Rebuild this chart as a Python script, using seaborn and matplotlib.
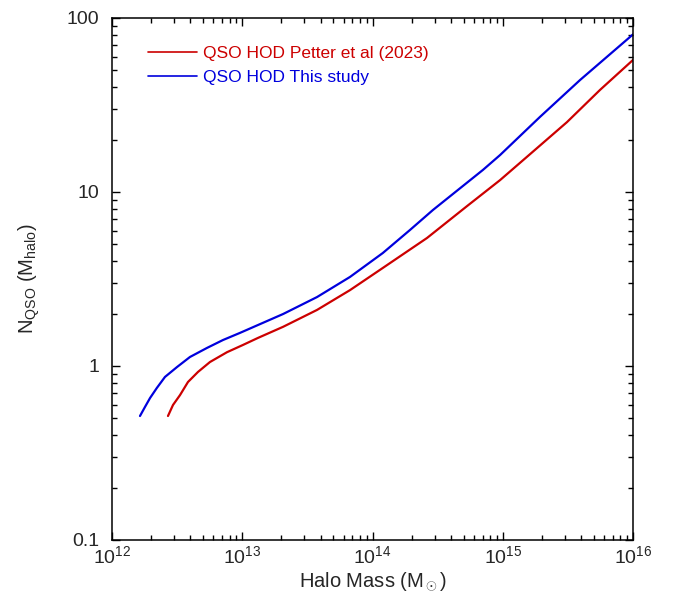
import numpy as np
import pandas as pd
import matplotlib
matplotlib.use("Agg")
import matplotlib.pyplot as plt
import matplotlib.ticker as mticker
import seaborn as sns

# Data
mass_petter = [2.69e12, 2.94e12, 3.33e12, 3.83e12, 4.57e12, 5.65e12, 7.63e12, 1.01e13,
               1.32e13, 2.06e13, 3.75e13, 6.72e13, 1.20e14, 2.62e14, 5.32e14, 9.53e14,
               1.53e15, 3.11e15, 5.58e15, 1.0e16]
n_petter = [0.516, 0.597, 0.681, 0.809, 0.924, 1.054, 1.20, 1.32,
            1.45, 1.68, 2.10, 2.73, 3.66, 5.44, 8.3, 11.7,
            15.9, 25.2, 38.6, 57.4]

mass_this = [1.64e12, 1.79e12, 1.96e12, 2.21e12, 2.55e12, 3.16e12, 3.97e12, 5.36e12,
             7.11e12, 9.61e12, 1.32e13, 2.06e13, 3.75e13, 6.72e13, 1.20e14, 1.94e14,
             2.91e14, 7.05e14, 9.53e14, 1.93e15, 3.92e15, 1.0e16]
n_this = [0.516, 0.581, 0.655, 0.748, 0.865, 0.987, 1.127, 1.27,
          1.41, 1.55, 1.72, 1.99, 2.49, 3.25, 4.46, 6.05,
          7.88, 13.4, 16.3, 27.0, 44.0, 80.5]

labels = ["QSO HOD Petter et al (2023)", "QSO HOD This study"]
colors = ["#cc0000", "#0000dd"]
y_ticks = [0.1, 1, 10, 100]
y_tick_labels = ["0.1", "1", "10", "100"]

df = pd.concat([
    pd.DataFrame({"mass": mass_petter, "n": n_petter, "series": labels[0]}),
    pd.DataFrame({"mass": mass_this, "n": n_this, "series": labels[1]}),
])

sns.set_style("ticks")
plt.rcParams["font.family"] = ["Liberation Sans", "DejaVu Sans"]
plt.rcParams["mathtext.fontset"] = "custom"
plt.rcParams["mathtext.rm"] = "Liberation Sans"
plt.rcParams["mathtext.it"] = "Liberation Sans:italic"

fig = plt.figure(figsize=(6.75, 6.04), dpi=100)
ax = fig.add_axes([112/675, 1-540/604, (633-112)/675, (540-18)/604])

sns.lineplot(data=df, x="mass", y="n", hue="series", palette=dict(zip(labels, colors)),
             linewidth=1.6, sort=False, estimator=None, ax=ax)

ax.set_xscale("log")
ax.set_yscale("log")
ax.set_xlim(1e12, 1e16)
ax.set_ylim(0.1, 100)

ax.yaxis.set_major_locator(mticker.FixedLocator(y_ticks))
ax.yaxis.set_major_formatter(mticker.FixedFormatter(y_tick_labels))
ax.yaxis.set_minor_locator(mticker.LogLocator(base=10, subs=np.arange(2, 10)))
ax.yaxis.set_minor_formatter(mticker.NullFormatter())
ax.xaxis.set_major_locator(mticker.LogLocator(base=10, numticks=10))
ax.xaxis.set_minor_locator(mticker.LogLocator(base=10, subs=np.arange(2, 10), numticks=20))
ax.xaxis.set_minor_formatter(mticker.NullFormatter())

ax.tick_params(which="both", direction="in", top=True, right=True, color="black", width=1)
ax.tick_params(which="major", length=6, labelsize=14)
ax.tick_params(which="minor", length=3.5)
ax.tick_params(axis="y", which="major", pad=9)
ax.tick_params(axis="x", which="major", pad=4)
for s in ax.spines.values():
    s.set_linewidth(1.1)
    s.set_color("black")

ax.set_xlabel(r"Halo Mass (M$_\odot$)", fontsize=14.5, labelpad=2)
ax.set_ylabel(r"N$_\mathregular{QSO}$ (M$_\mathregular{halo}$)", fontsize=14.5, labelpad=18)

leg = ax.legend(loc="upper left", bbox_to_anchor=(0.04, 0.977), frameon=False,
                fontsize=12.5, handlelength=2.8, handletextpad=0.35, labelspacing=0.55)
for txt, c in zip(leg.get_texts(), colors):
    txt.set_color(c)
for line in leg.get_lines():
    line.set_linewidth(1.2)

fig.savefig("out.png", dpi=100)
